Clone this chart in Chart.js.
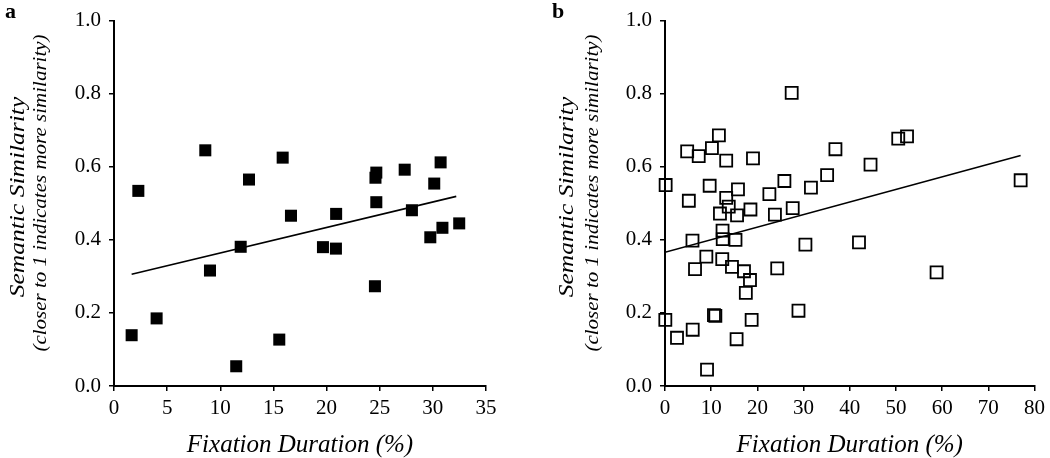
<!DOCTYPE html>
<html>
<head>
<meta charset="utf-8">
<script src="https://cdn.jsdelivr.net/npm/chart.js@4/dist/chart.umd.min.js"></script>
<style>
  html, body { margin: 0; padding: 0; background: #fff; }
  .panel { position: absolute; top: 0; width: 525px; height: 458px; }
  .warm { position: absolute; left: -9999px; font-family: "Liberation Serif", "Times New Roman", serif; }
</style>
</head>
<body>
<span class="warm">0.8 <i>Fixation</i> <b>a</b></span>
<div class="panel" style="left:0"><canvas id="chartA" width="525" height="458"></canvas></div>
<div class="panel" style="left:525px"><canvas id="chartB" width="525" height="458"></canvas></div>
<script>
// panel a: fixation duration (%) vs semantic similarity
var fixA = [1.66, 2.29, 4.01, 8.59, 9.03, 11.5, 11.92, 12.7, 15.55, 15.87, 16.65, 19.66, 20.88,
            20.9, 24.55, 24.68, 24.6, 24.68, 27.35, 28.03, 29.76, 30.13, 30.73, 30.9, 32.48];
var simA = [0.139, 0.534, 0.185, 0.645, 0.316, 0.054, 0.381, 0.565, 0.127, 0.625, 0.466, 0.380, 0.376,
            0.471, 0.273, 0.503, 0.570, 0.584, 0.592, 0.481, 0.407, 0.554, 0.612, 0.433, 0.445];
var trendFixA = [1.66, 32.2];
var trendSimA = [0.306, 0.519];

// panel b
var fixB = [27.43, 11.67, 50.5, 52.4, 4.8, 7.3, 10.16, 13.25, 19.05, 36.9, 44.5, 35.1, 0.14,
            9.67, 15.8, 25.85, 31.6, 22.6, 77.0, 5.16, 13.25, 13.8, 18.5, 27.65, 11.9, 15.6,
            23.8, 12.46, 5.95, 12.5, 15.26, 30.4, 42.0, 8.95, 12.4, 6.5, 14.5, 17.1, 18.4,
            24.3, 17.5, 58.8, 28.9, 0.07, 10.6, 10.9, 18.76, 6.0, 2.6, 15.5, 9.1];
var simB = [0.802, 0.686, 0.677, 0.683, 0.642, 0.629, 0.651, 0.617, 0.623, 0.648, 0.606, 0.577, 0.550,
            0.548, 0.538, 0.561, 0.543, 0.525, 0.563, 0.507, 0.515, 0.491, 0.483, 0.487, 0.472, 0.467,
            0.469, 0.425, 0.398, 0.402, 0.400, 0.387, 0.393, 0.354, 0.347, 0.320, 0.326, 0.314, 0.290,
            0.322, 0.255, 0.311, 0.206, 0.181, 0.194, 0.192, 0.181, 0.154, 0.132, 0.128, 0.045];
var trendFixB = [0, 77];
var trendSimB = [0.366, 0.631];

var xTitle = 'Fixation Duration (%)';
var yTitle = 'Semantic Similarity';
var ySubTitle = '(closer to 1 indicates more similarity)';

var SERIF = '"Liberation Serif", "Times New Roman", Times, serif';
Chart.defaults.color = '#000';
Chart.defaults.font.family = SERIF;

function pts(xs, ys) {
    return xs.map(function (x, i) { return { x: x, y: ys[i] }; });
}

// axis titles and panel letter, drawn relative to the chart area
var titlesPlugin = {
    id: 'titles',
    afterDraw: function (chart, args, o) {
        var ctx = chart.ctx, a = chart.chartArea;
        ctx.save();
        ctx.fillStyle = '#000';
        ctx.textAlign = 'center';
        ctx.textBaseline = 'middle';

        ctx.font = 'italic 25px ' + SERIF;
        ctx.fillText(xTitle, (a.left + a.right) / 2, a.bottom + 59);

        ctx.save();
        ctx.translate(a.left - o.mainOff, 197);
        ctx.rotate(-Math.PI / 2);
        ctx.scale(1.02, 0.85);
        ctx.fillText(yTitle, 0, 0);
        ctx.restore();

        ctx.save();
        ctx.font = 'italic 21px ' + SERIF;
        ctx.translate(a.left - o.subOff, 193);
        ctx.rotate(-Math.PI / 2);
        ctx.scale(1, 0.85);
        ctx.fillText(ySubTitle, 0, 0);
        ctx.restore();

        ctx.font = 'bold 22px ' + SERIF;
        ctx.textAlign = 'left';
        ctx.textBaseline = 'top';
        ctx.fillText(o.letter, a.left - o.letterOff, 1);
        ctx.restore();
    }
};

function makeChart(id, xs, ys, tx, ty, xMax, xStep, filled, pad, t) {
    var ctx = document.getElementById(id).getContext('2d');
    return new Chart(ctx, {
        type: 'scatter',
        data: {
            datasets: [{
                data: pts(xs, ys),
                pointStyle: 'rect',
                pointRadius: 8.5,
                pointHoverRadius: 8.5,
                backgroundColor: filled ? '#000' : 'rgba(0,0,0,0)',
                borderColor: '#000',
                borderWidth: filled ? 0 : 1.8,
                clip: false
            }, {
                type: 'line',
                data: pts(tx, ty),
                borderColor: '#000',
                borderWidth: 1.6,
                pointRadius: 0,
                fill: false
            }]
        },
        plugins: [titlesPlugin],
        options: {
            responsive: false,
            animation: false,
            layout: { padding: pad },
            plugins: {
                legend: { display: false },
                tooltip: { enabled: false },
                titles: t
            },
            scales: {
                x: {
                    type: 'linear',
                    min: 0,
                    max: xMax,
                    border: { color: '#000', width: 2 },
                    grid: { drawOnChartArea: false, color: '#000', lineWidth: 1.5, tickLength: 5 },
                    ticks: { stepSize: xStep, padding: 5, font: { size: 21 } },
                    afterFit: function (s) { s.height = 72; }
                },
                y: {
                    min: 0,
                    max: 1,
                    border: { color: '#000', width: 2 },
                    grid: { drawOnChartArea: false, color: '#000', lineWidth: 1.5, tickLength: 5 },
                    ticks: {
                        stepSize: 0.2,
                        padding: 8,
                        font: { size: 21 },
                        callback: function (v) { return v.toFixed(1); }
                    },
                    afterFit: function (s) { s.width = pad.yw; }
                }
            }
        }
    });
}

function drawAll() {
    makeChart('chartA', fixA, simA, trendFixA, trendSimA, 35, 5, true,
        { top: 13, right: 39, left: 0, bottom: 0, yw: 114 },
        { letter: 'a', mainOff: 96, subOff: 73, letterOff: 109 });

    makeChart('chartB', fixB, simB, trendFixB, trendSimB, 80, 10, false,
        { top: 13, right: 13, left: 0, bottom: 0, yw: 140 },
        { letter: 'b', mainOff: 98, subOff: 72, letterOff: 113 });
}

if (document.fonts && document.fonts.load) {
    Promise.all([
        document.fonts.load('21px "Liberation Serif"'),
        document.fonts.load('italic 25px "Liberation Serif"'),
        document.fonts.load('bold 22px "Liberation Serif"')
    ]).then(drawAll, drawAll);
} else {
    drawAll();
}
</script>
</body>
</html>
